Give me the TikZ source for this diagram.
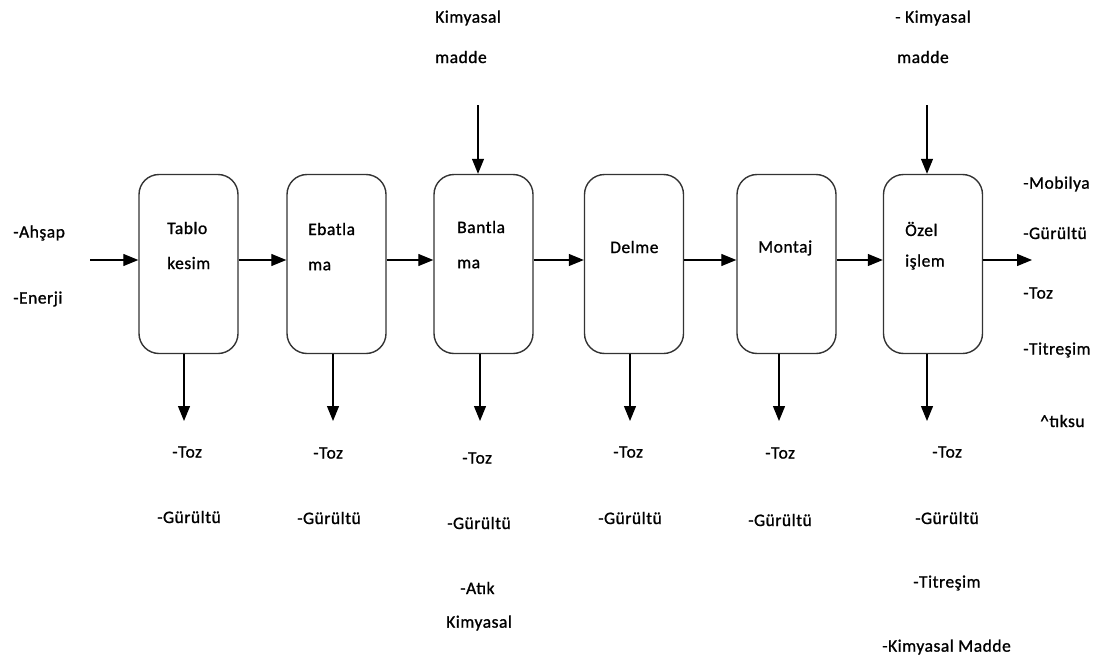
\documentclass[tikz,border=0pt]{standalone}
\usepackage{fontspec}
\setmainfont[LetterSpace=3,FakeBold=1]{Carlito}
\usetikzlibrary{arrows.meta}
\begin{document}
\begin{tikzpicture}[x=1pt,y=-1pt,
  proc/.style={draw=black!80,line width=1.4pt,rounded corners=20pt,minimum width=99pt,minimum height=179pt,inner sep=0pt},
  flow/.style={line width=1.2pt,-{Triangle[length=15pt,width=12pt]}},
  txt/.style={anchor=west,inner sep=0pt,font=\fontsize{17.5}{19}\selectfont}]
\useasboundingbox (0,0) rectangle (1107,661);
% process boxes
\node[proc] (b1) at (188.5,264) {};
\node[proc] (b2) at (336.5,264) {};
\node[proc] (b3) at (483.5,264) {};
\node[proc] (b4) at (634,264) {};
\node[proc] (b5) at (786.5,264) {};
\node[proc] (b6) at (933,264) {};
% box texts
\node[txt] (t1a) at (167,228) {Tablo};
\node[txt] (t1b) at (167,263) {kesim};
\node[txt] (t2a) at (308,229) {Ebatla};
\node[txt] (t2b) at (308,266) {ma};
\node[txt] (t3a) at (457,227) {Bantla};
\node[txt] (t3b) at (457,264) {ma};
\node[txt] (t4) at (610,247) {Delme};
\node[txt] (t5) at (758,248) {Montaj};
\node[txt] (t6a) at (905,229) {Özel};
\node[txt] (t6b) at (905,262) {işlem};
% coordinates
\coordinate (in) at (90,260);
\coordinate (out) at (1032,260);
\coordinate (k3) at (478,105);
\coordinate (k6) at (927,105);
% horizontal flow
\draw[flow] (in) -- ([yshift=4pt]b1.west);
\draw[flow] ([yshift=4pt]b1.east) -- ([yshift=4pt]b2.west);
\draw[flow] ([yshift=4pt]b2.east) -- ([yshift=4pt]b3.west);
\draw[flow] ([yshift=4pt]b3.east) -- ([yshift=4pt]b4.west);
\draw[flow] ([yshift=4pt]b4.east) -- ([yshift=4pt]b5.west);
\draw[flow] ([yshift=4pt]b5.east) -- ([yshift=4pt]b6.west);
\draw[flow] ([yshift=4pt]b6.east) -- (out);
% top inputs
\draw[flow] (k3) -- (b3.north -| k3);
\draw[flow] (k6) -- (b6.north -| k6);
% down outputs
\foreach \b/\x in {b1/184,b2/333,b3/480,b4/630,b5/779,b6/927}{
  \coordinate (d\b) at (\x,421);
  \draw[flow] (\b.south -| d\b) -- (d\b);
}
% left inputs
\node[txt] (ia) at (13,233) {-Ahşap};
\node[txt] (ie) at (13,299) {-Enerji};
% top labels
\node[txt] (c3a) at (435,18) {Kimyasal};
\node[txt] (c3b) at (435,57) {madde};
\node[txt] (c6a) at (895,18) {- Kimyasal};
\node[txt] (c6b) at (897,57) {madde};
% right outputs
\node[txt] (o1) at (1023,184) {-Mobilya};
\node[txt] (o2) at (1023,233) {-Gürültü};
\node[txt] (o3) at (1023,293) {-Toz};
\node[txt] (o4) at (1023,350) {-Titreşim};
\node[txt] (o5) at (1040,421) {\textasciicircum tıksu};
% bottom outputs
\node[txt] (l1a) at (172,452) {-Toz};
\node[txt] (l1b) at (157,517) {-Gürültü};
\node[txt] (l2a) at (313,453) {-Toz};
\node[txt] (l2b) at (297,518) {-Gürültü};
\node[txt] (l3a) at (462,458) {-Toz};
\node[txt] (l3b) at (447,523) {-Gürültü};
\node[txt] (l3c) at (460,588) {-Atık};
\node[txt] (l3d) at (446,623) {Kimyasal};
\node[txt] (l4a) at (613,452) {-Toz};
\node[txt] (l4b) at (598,518) {-Gürültü};
\node[txt] (l5a) at (765,453) {-Toz};
\node[txt] (l5b) at (748,520) {-Gürültü};
\node[txt] (l6a) at (932,452) {-Toz};
\node[txt] (l6b) at (915,518) {-Gürültü};
\node[txt] (l6c) at (913,583) {-Titreşim};
\node[txt] (l6d) at (882,647) {-Kimyasal Madde};
\end{tikzpicture}
\end{document}
